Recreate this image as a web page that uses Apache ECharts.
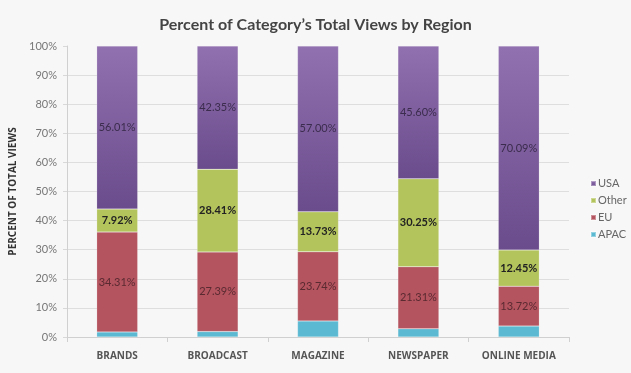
<!DOCTYPE html>
<html>
<head>
<meta charset="utf-8">
<style>
html,body{margin:0;padding:0;background:#f7f7f7;}
#chart{width:631px;height:373px;}
</style>
<script src="https://cdn.jsdelivr.net/npm/echarts@6/dist/echarts.min.js"></script>
</head>
<body>
<div id="chart"></div>
<script>
var categories = ['BRANDS', 'BROADCAST', 'MAGAZINE', 'NEWSPAPER', 'ONLINE MEDIA'];
var apac  = [1.76, 1.85, 5.53, 2.84, 3.74];
var eu    = [34.31, 27.39, 23.74, 21.31, 13.72];
var other = [7.92, 28.41, 13.73, 30.25, 12.45];
var usa   = [56.01, 42.35, 57.00, 45.60, 70.09];
var yTicks = [0, 10, 20, 30, 40, 50, 60, 70, 80, 90, 100];

var font = 'Lato, "Open Sans", sans-serif';
var chart = echarts.init(document.getElementById('chart'));
function pct(p){ return p.value.toFixed(2) + '%'; }
chart.setOption({
  backgroundColor: '#f7f7f7',
  animation: false,
  title: {
    text: 'Percent of Category\u2019s Total Views by Region',
    left: 'center', top: 12,
    textStyle: { fontFamily: font, fontSize: 16, fontWeight: 'bold', color: '#444' }
  },
  legend: {
    orient: 'vertical',
    left: 585, top: 173,
    itemWidth: 5, itemHeight: 5, itemGap: 6,
    icon: 'rect',
    data: ['USA', 'Other', 'EU', 'APAC'],
    textStyle: { fontFamily: font, fontSize: 11, color: '#666', padding: [0,0,0,-3] }
  },
  grid: { left: 67, right: 62, top: 46, bottom: 36 },
  xAxis: {
    type: 'category',
    data: categories,
    axisLine: { lineStyle: { color: '#d0d0d0' } },
    axisTick: { show: true, length: 5, lineStyle: { color: '#d0d0d0' } },
    axisLabel: { interval: 0, fontFamily: '"Open Sans", sans-serif', fontSize: 10, fontWeight: 'bold', color: '#555', margin: 14 }
  },
  yAxis: {
    type: 'value', min: yTicks[0], max: yTicks[yTicks.length-1], interval: 10,
    name: 'PERCENT OF TOTAL VIEWS',
    nameLocation: 'middle', nameGap: 38, nameRotate: 90,
    nameTextStyle: { fontFamily: '"Open Sans", sans-serif', fontSize: 10, fontWeight: 'bold', color: '#333' },
    axisLine: { show: true, lineStyle: { color: '#d0d0d0' } },
    axisTick: { show: true, length: 4, lineStyle: { color: '#d8d8d8' } },
    axisLabel: { fontFamily: font, fontSize: 11, color: '#777', formatter: '{value}%', margin: 10 },
    splitLine: { show: true, showMaxLine: false, lineStyle: { color: '#dedede' } }
  },
  series: [
    { name: 'APAC', type: 'bar', stack: 'a', data: apac, barWidth: 41,
      itemStyle: { color: '#5bb9d1', borderColor: 'rgba(255,255,255,0.35)', borderWidth: 0.5 } },
    { name: 'EU', type: 'bar', stack: 'a', data: eu,
      itemStyle: { color: '#b4545f', borderColor: 'rgba(255,255,255,0.35)', borderWidth: 0.5 },
      label: { show: true, position: 'inside', formatter: pct, fontFamily: font, fontSize: 11, color: '#5a2a31' } },
    { name: 'Other', type: 'bar', stack: 'a', data: other,
      itemStyle: { color: '#b4c45c', borderColor: 'rgba(255,255,255,0.35)', borderWidth: 0.5 },
      label: { show: true, position: 'inside', formatter: pct, fontFamily: font, fontSize: 11, fontWeight: 'bold', color: '#222' } },
    { name: 'USA', type: 'bar', stack: 'a', data: usa,
      itemStyle: {
        color: new echarts.graphic.LinearGradient(0, 0, 0, 1, [
          { offset: 0, color: '#9271b0' }, { offset: 1, color: '#6a4b8b' }
        ]),
        borderColor: 'rgba(255,255,255,0.35)', borderWidth: 0.5
      },
      label: { show: true, position: 'inside', formatter: pct, fontFamily: font, fontSize: 11, color: '#3b2c4d' } }
  ]
});
</script>
</body>
</html>
